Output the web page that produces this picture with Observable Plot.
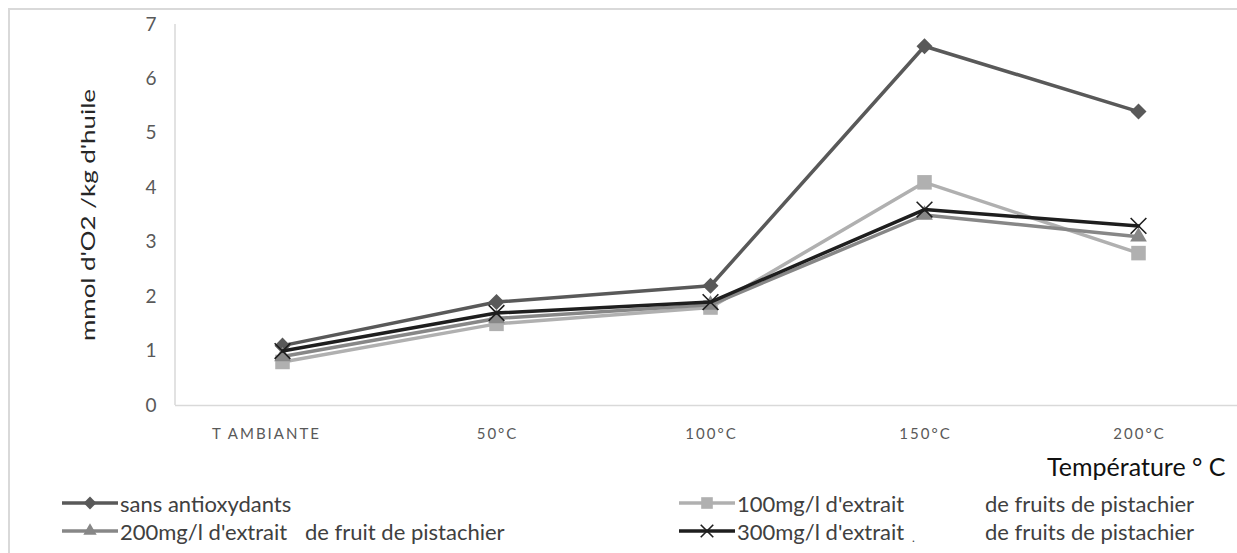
<!DOCTYPE html>
<html>
<head>
<meta charset="utf-8">
<script src="https://cdn.jsdelivr.net/npm/d3@7"></script>
<script src="https://cdn.jsdelivr.net/npm/@observablehq/plot@0.6"></script>
<style>
  html, body { margin: 0; padding: 0; background: #fff; }
  #chart { position: relative; width: 1237px; height: 553px; overflow: hidden; font-family: Lato, "Open Sans", sans-serif; }
  #border { position: absolute; left: 8px; top: 8px; right: -10px; bottom: -10px; border-left: 2px solid #d9d9d9; border-top: 2px solid #d9d9d9; }
  #plot { position: absolute; left: 0; top: 0; }
  #plot svg [aria-label="x-axis tick label"] text { letter-spacing: 2px; }
  .leg { position: absolute; display: flex; align-items: center; font-size: 22px; color: #404040; white-space: nowrap; }
  .leg svg { display: block; margin-right: 2px; }
  .txt { position: absolute; font-size: 22px; color: #404040; white-space: nowrap; transform: translateY(-50%); }
</style>
</head>
<body>
<div id="chart">
  <div id="border"></div>
  <div id="plot"></div>
</div>
<script>
// Peroxide value of the oil by heating temperature
const temperatures = ["T AMBIANTE", "50°C", "100°C", "150°C", "200°C"];
const sansAntioxydants = [1.1, 1.9, 2.2, 6.6, 5.4];
const extrait100 = [0.8, 1.5, 1.8, 4.1, 2.8];
const extrait200 = [0.9, 1.6, 1.85, 3.5, 3.1];
const extrait300 = [1.0, 1.7, 1.9, 3.6, 3.3];
const yTicks = [0, 1, 2, 3, 4, 5, 6, 7];
const yTitle = "mmol d'O2 /kg d'huile";
const xTitle = "Température ° C";

const series = [
  {name: "sans antioxydants", values: sansAntioxydants, color: "#595959", symbol: "square", r: 6.4, rotate: 45},
  {name: "100mg/l d'extrait", values: extrait100, color: "#b0b0b0", symbol: "square", r: 8.2, rotate: 0},
  {name: "200mg/l d'extrait", values: extrait200, color: "#878787", symbol: "triangle", r: 6.2, rotate: 0},
  {name: "300mg/l d'extrait", values: extrait300, color: "#1e1e1e", symbol: "times", r: 7.2, rotate: 0}
];

const rows = series.flatMap(s => temperatures.map((t, i) => ({serie: s.name, temp: t, value: s.values[i]})));

// left axis line, drawn from the y scale
const yAxisLine = (index, scales, values, dims) => {
  const g = d3.create("svg:g");
  g.append("line")
    .attr("x1", dims.marginLeft).attr("x2", dims.marginLeft)
    .attr("y1", scales.y(7)).attr("y2", scales.y(0))
    .attr("stroke", "#d9d9d9").attr("stroke-width", 1.5);
  return g.node();
};

const marks = [
  Plot.ruleY([0], {stroke: "#d9d9d9", strokeWidth: 1.5}),
  yAxisLine,
  Plot.axisY({ticks: yTicks, tickFormat: d3.format("d"), tickSize: 0, tickPadding: 19, fontSize: 19, fill: "#595959", label: null}),
  // the first category label sits a little left of its point
  Plot.axisX({ticks: temperatures.slice(0, 1), tickSize: 0, tickPadding: 23, fontSize: 15, fill: "#595959", label: null, dx: -16}),
  Plot.axisX({ticks: temperatures.slice(1), tickSize: 0, tickPadding: 23, fontSize: 15, fill: "#595959", label: null, dx: 1}),
  Plot.text([yTitle], {frameAnchor: "left", textAnchor: "middle", rotate: -90, dx: -87, dy: 0, fontSize: 20, fill: "#262626"}),
  Plot.text([xTitle], {frameAnchor: "bottom-right", textAnchor: "end", lineAnchor: "top", dx: -12, dy: 53, fontSize: 25, fill: "#111"})
];
for (const s of series) {
  const data = rows.filter(d => d.serie === s.name);
  marks.push(Plot.line(data, {x: "temp", y: "value", stroke: s.color, strokeWidth: 3.5}));
  if (s.symbol === "times") {
    marks.push(Plot.dot(data, {x: "temp", y: "value", symbol: "times", r: s.r, stroke: s.color, strokeWidth: 1.6}));
  } else {
    marks.push(Plot.dot(data, {x: "temp", y: "value", symbol: s.symbol, r: s.r, fill: s.color, stroke: "none", rotate: s.rotate}));
  }
}

const plot = Plot.plot({
  width: 1237,
  height: 480,
  marginLeft: 175,
  marginRight: 0,
  marginTop: 24,
  marginBottom: 75,
  style: {fontFamily: "Lato, 'Open Sans', sans-serif", background: "transparent", overflow: "visible"},
  x: {type: "point", domain: temperatures, range: [175, 1245], padding: 0.5},
  y: {domain: [0, 7]},
  marks
});
// the rotated axis title is set in tall, narrow lettering
d3.select(plot).selectAll("text")
  .filter(function() { return this.textContent === yTitle; })
  .attr("textLength", 252).attr("lengthAdjust", "spacingAndGlyphs");
document.getElementById("plot").append(plot);

// legend: line + marker swatches, with the two-part labels
const legendItems = [
  {s: series[0], x: 62, y: 503, text: "sans antioxydants", tail: null},
  {s: series[1], x: 679, y: 503, text: "100mg/l d'extrait", tail: {x: 985, text: "de fruits de pistachier"}},
  {s: series[2], x: 62, y: 531, text: "200mg/l d'extrait", tail: {x: 305, text: "de fruit de pistachier"}},
  {s: series[3], x: 679, y: 531, text: "300mg/l d'extrait", tail: {x: 985, text: "de fruits de pistachier"}, dot: 912}
];
const chart = document.getElementById("chart");
const symbolOf = {square: d3.symbolSquare, triangle: d3.symbolTriangle, times: d3.symbolTimes};
for (const it of legendItems) {
  const div = document.createElement("div");
  div.className = "leg";
  div.style.left = it.x + "px";
  div.style.top = (it.y - 14) + "px";
  div.style.height = "28px";
  const sw = d3.create("svg").attr("width", 56).attr("height", 20);
  sw.append("line").attr("x1", 0).attr("x2", 56).attr("y1", 10).attr("y2", 10)
    .attr("stroke", it.s.color).attr("stroke-width", 3.5);
  const rr = it.s.r * 0.8;
  const path = d3.symbol(symbolOf[it.s.symbol], Math.PI * rr * rr)();
  const p = sw.append("path").attr("d", path)
    .attr("transform", `translate(28,10) rotate(${it.s.rotate})`);
  if (it.s.symbol === "times") p.attr("stroke", it.s.color).attr("stroke-width", 1.6).attr("fill", "none");
  else p.attr("fill", it.s.color);
  div.append(sw.node());
  const span = document.createElement("span");
  span.textContent = it.text;
  div.append(span);
  chart.append(div);
  if (it.tail) {
    const t = document.createElement("div");
    t.className = "txt";
    t.style.left = it.tail.x + "px";
    t.style.top = it.y + "px";
    t.textContent = it.tail.text;
    chart.append(t);
  }
  if (it.dot) {
    const d = document.createElement("div");
    d.className = "txt";
    d.style.left = it.dot + "px";
    d.style.top = (it.y + 6) + "px";
    d.style.fontSize = "12px";
    d.textContent = ".";
    chart.append(d);
  }
}
</script>
</body>
</html>
